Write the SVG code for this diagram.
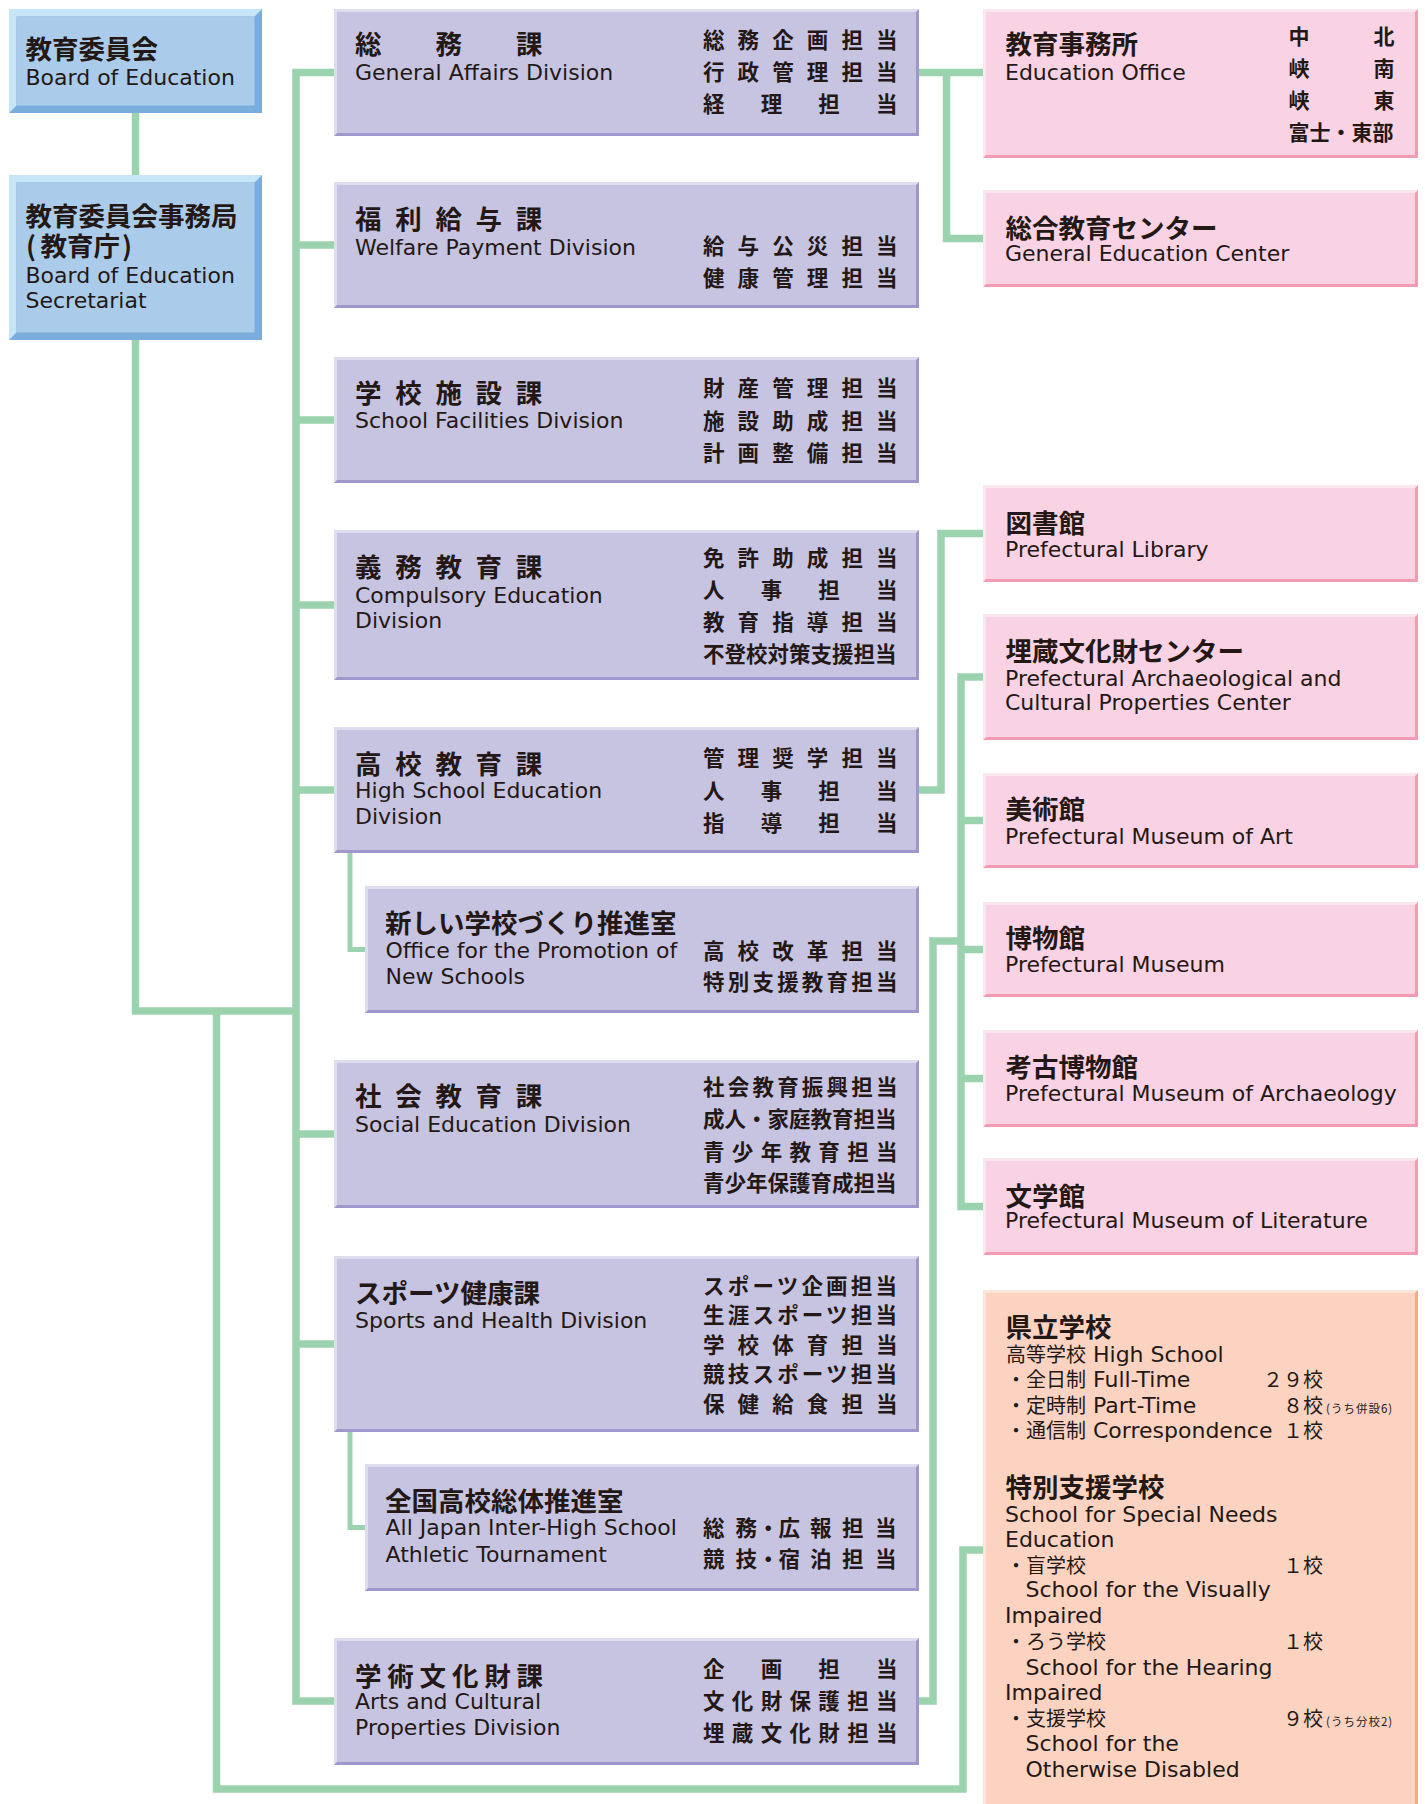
<svg xmlns="http://www.w3.org/2000/svg" width="1425" height="1804" viewBox="0 0 1425 1804">
<style>
.cn{fill:none;stroke:#9cd3af;stroke-width:7.5;stroke-linejoin:miter}
.cn2{fill:none;stroke:#9cd3af;stroke-width:5;stroke-linejoin:miter}
.bd{fill:#7aaddb}.bl{fill:#c6e5f7}.bf{fill:#aaccea}
.pd{fill:#9d97cb}.pl{fill:#dedcef}.pf{fill:#c7c4e1}
.kd{fill:#f29cb4}.kl{fill:#fde7ef}.kf{fill:#f9d3e3}
.sd{fill:#f4a98c}.sl{fill:#fde4d9}.sf{fill:#fcd3c1}
text{fill:#231815}
.ja{font-family:"Noto Sans CJK JP",sans-serif}
.h{font-size:26.5px;font-weight:700}
.r{font-size:21.5px;font-weight:700}
.q{font-size:21px;font-weight:700}
.e{font-family:"DejaVu Sans","Noto Sans CJK JP",sans-serif;font-size:22px}
.s5{letter-spacing:13.7px}.s6{letter-spacing:5.8px}
.r4{letter-spacing:36.17px}.r6{letter-spacing:13.1px}.r7{letter-spacing:7.33px}.r8{letter-spacing:3.21px}
.k{font-family:"Noto Sans CJK JP",sans-serif;font-size:20px}
.t{font-family:"Noto Sans CJK JP",sans-serif;font-size:11.5px;letter-spacing:1px}
</style>
<rect width="1425" height="1804" fill="#ffffff"/>
<g id="connectors">
<path class="cn" d="M135.5,113V175"/>
<path class="cn" d="M135.5,340V1011H296"/>
<path class="cn" d="M334,72.5H296V1701H334"/>
<path class="cn" d="M296,245H334M296,420H334M296,605H334M296,790H334M296,1134H334M296,1344H334"/>
<path class="cn" d="M216.5,1011V1789H963V1550H983"/>
<path class="cn2" d="M350,853V949.5H365M350,1432V1527.5H365"/>
<path class="cn" d="M919,72.5H983M946.5,72.5V238.5H983"/>
<path class="cn" d="M919,790H941V533.5H983"/>
<path class="cn" d="M983,677H961V1206.5H983M961,820.5H983M961,949.5H983M961,1078.5H983"/>
<path class="cn" d="M919,1701H933V941H961"/>
</g>
<g id="board">
<rect class="bd" x="9" y="9" width="253" height="104"/>
<polygon class="bl" points="9,9 262,9 254.5,16.5 16.5,16.5 16.5,105.5 9,113"/>
<rect class="bf" x="16.5" y="16.5" width="238" height="89"/>
<text class="ja h" x="25.5" y="59">教育委員会</text>
<text class="e" x="25.5" y="85">Board of Education</text>
</g>
<g id="secretariat">
<rect class="bd" x="9" y="175" width="253" height="165"/>
<polygon class="bl" points="9,175 262,175 254.5,182.5 16.5,182.5 16.5,332.5 9,340"/>
<rect class="bf" x="16.5" y="182.5" width="238" height="150"/>
<text class="ja h" x="25.5" y="225.5">教育委員会事務局</text>
<text class="ja h" x="26 40.5 67 93.5 122" y="256">(教育庁)</text>
<text class="e" x="25.5" y="283">Board of Education</text>
<text class="e" x="25.5" y="308">Secretariat</text>
</g>
<g id="general-affairs">
<rect class="pd" x="334" y="9" width="585" height="127"/>
<polygon class="pl" points="334,9 919,9 916,12 337,12 337,133 334,136"/>
<rect class="pf" x="337" y="12" width="579" height="121"/>
<text class="ja h" x="355 435.5 516" y="54">総務課</text>
<text class="e" x="355" y="80">General Affairs Division</text>
<text class="ja r r6" x="703" y="47.5">総務企画担当</text>
<text class="ja r r6" x="703" y="79.5">行政管理担当</text>
<text class="ja r r4" x="703" y="112">経理担当</text>
</g>
<g id="welfare">
<rect class="pd" x="334" y="182" width="585" height="126"/>
<polygon class="pl" points="334,182 919,182 916,185 337,185 337,305 334,308"/>
<rect class="pf" x="337" y="185" width="579" height="120"/>
<text class="ja h s5" x="355" y="228.5">福利給与課</text>
<text class="e" x="355" y="255">Welfare Payment Division</text>
<text class="ja r r6" x="703" y="254">給与公災担当</text>
<text class="ja r r6" x="703" y="285.7">健康管理担当</text>
</g>
<g id="school-facilities">
<rect class="pd" x="334" y="357" width="585" height="126"/>
<polygon class="pl" points="334,357 919,357 916,360 337,360 337,480 334,483"/>
<rect class="pf" x="337" y="360" width="579" height="120"/>
<text class="ja h s5" x="355" y="403">学校施設課</text>
<text class="e" x="355" y="428.3">School Facilities Division</text>
<text class="ja r r6" x="703" y="396">財産管理担当</text>
<text class="ja r r6" x="703" y="428.7">施設助成担当</text>
<text class="ja r r6" x="703" y="460.5">計画整備担当</text>
</g>
<g id="compulsory">
<rect class="pd" x="334" y="530" width="585" height="150"/>
<polygon class="pl" points="334,530 919,530 916,533 337,533 337,677 334,680"/>
<rect class="pf" x="337" y="533" width="579" height="144"/>
<text class="ja h s5" x="355" y="577">義務教育課</text>
<text class="e" x="355" y="603.3">Compulsory Education</text>
<text class="e" x="355" y="628">Division</text>
<text class="ja r r6" x="703" y="566">免許助成担当</text>
<text class="ja r r4" x="703" y="598">人事担当</text>
<text class="ja r r6" x="703" y="630">教育指導担当</text>
<text class="ja r" x="703" y="661.5">不登校対策支援担当</text>
</g>
<g id="high-school">
<rect class="pd" x="334" y="727" width="585" height="126"/>
<polygon class="pl" points="334,727 919,727 916,730 337,730 337,850 334,853"/>
<rect class="pf" x="337" y="730" width="579" height="120"/>
<text class="ja h s5" x="355" y="774">高校教育課</text>
<text class="e" x="355" y="798.3">High School Education</text>
<text class="e" x="355" y="824.3">Division</text>
<text class="ja r r6" x="703" y="765.7">管理奨学担当</text>
<text class="ja r r4" x="703" y="798.7">人事担当</text>
<text class="ja r r4" x="703" y="830.7">指導担当</text>
</g>
<g id="new-schools">
<rect class="pd" x="365" y="886" width="554" height="127"/>
<polygon class="pl" points="365,886 919,886 916,889 368,889 368,1010 365,1013"/>
<rect class="pf" x="368" y="889" width="548" height="121"/>
<text class="ja h" x="385" y="932.5">新しい学校づくり推進室</text>
<text class="e" x="385.5" y="958.3">Office for the Promotion of</text>
<text class="e" x="385.5" y="984.3">New Schools</text>
<text class="ja r r6" x="703" y="958.7">高校改革担当</text>
<text class="ja r r8" x="703" y="989.5">特別支援教育担当</text>
</g>
<g id="social-education">
<rect class="pd" x="334" y="1060" width="585" height="148"/>
<polygon class="pl" points="334,1060 919,1060 916,1063 337,1063 337,1205 334,1208"/>
<rect class="pf" x="337" y="1063" width="579" height="142"/>
<text class="ja h s5" x="355" y="1106">社会教育課</text>
<text class="e" x="355" y="1131.7">Social Education Division</text>
<text class="ja r r8" x="703" y="1095.4">社会教育振興担当</text>
<text class="ja r" x="703" y="1127.4">成人・家庭教育担当</text>
<text class="ja r r7" x="703" y="1160">青少年教育担当</text>
<text class="ja r" x="703" y="1191">青少年保護育成担当</text>
</g>
<g id="sports-health">
<rect class="pd" x="334" y="1256" width="585" height="176"/>
<polygon class="pl" points="334,1256 919,1256 916,1259 337,1259 337,1429 334,1432"/>
<rect class="pf" x="337" y="1259" width="579" height="170"/>
<text class="ja h" x="355" y="1303">スポーツ健康課</text>
<text class="e" x="355" y="1328.3">Sports and Health Division</text>
<text class="ja r r8" x="703" y="1293.5">スポーツ企画担当</text>
<text class="ja r r8" x="703" y="1323">生涯スポーツ担当</text>
<text class="ja r r6" x="703" y="1352.5">学校体育担当</text>
<text class="ja r r8" x="703" y="1382">競技スポーツ担当</text>
<text class="ja r r6" x="703" y="1411.5">保健給食担当</text>
</g>
<g id="inter-high">
<rect class="pd" x="365" y="1464" width="554" height="127"/>
<polygon class="pl" points="365,1464 919,1464 916,1467 368,1467 368,1588 365,1591"/>
<rect class="pf" x="368" y="1467" width="548" height="121"/>
<text class="ja h" x="385" y="1511">全国高校総体推進室</text>
<text class="e" x="385.5" y="1535">All Japan Inter-High School</text>
<text class="e" x="385.5" y="1561.7">Athletic Tournament</text>
<text class="ja r" x="703 735.5 757.5 778.5 810 842 875" y="1535.7">総務・広報担当</text>
<text class="ja r" x="703 735.5 757.5 778.5 810 842 875" y="1567.4">競技・宿泊担当</text>
</g>
<g id="arts-culture">
<rect class="pd" x="334" y="1638" width="585" height="127"/>
<polygon class="pl" points="334,1638 919,1638 916,1641 337,1641 337,1762 334,1765"/>
<rect class="pf" x="337" y="1641" width="579" height="121"/>
<text class="ja h s6" x="355" y="1686">学術文化財課</text>
<text class="e" x="355" y="1709.3">Arts and Cultural</text>
<text class="e" x="355" y="1735">Properties Division</text>
<text class="ja r r4" x="703" y="1677.4">企画担当</text>
<text class="ja r r7" x="703" y="1709">文化財保護担当</text>
<text class="ja r r7" x="703" y="1740.7">埋蔵文化財担当</text>
</g>
<g id="education-office">
<rect class="kd" x="983" y="9" width="435" height="149"/>
<polygon class="kl" points="983,9 1418,9 1415,12 986,12 986,155 983,158"/>
<rect class="kf" x="986" y="12" width="429" height="143"/>
<text class="ja h" x="1005.5" y="54.3">教育事務所</text>
<text class="e" x="1005" y="80">Education Office</text>
<text class="ja q" x="1288.5 1373.5" y="43.5">中北</text>
<text class="ja q" x="1288.5 1373.5" y="75.5">峡南</text>
<text class="ja q" x="1288.5 1373.5" y="107.5">峡東</text>
<text class="ja q" x="1288.5" y="139.5">富士・東部</text>
</g>
<g id="general-education-center">
<rect class="kd" x="983" y="190" width="435" height="97"/>
<polygon class="kl" points="983,190 1418,190 1415,193 986,193 986,284 983,287"/>
<rect class="kf" x="986" y="193" width="429" height="91"/>
<text class="ja h" x="1005.5" y="237.5">総合教育センター</text>
<text class="e" x="1005" y="260.7">General Education Center</text>
</g>
<g id="library">
<rect class="kd" x="983" y="485" width="435" height="97"/>
<polygon class="kl" points="983,485 1418,485 1415,488 986,488 986,579 983,582"/>
<rect class="kf" x="986" y="488" width="429" height="91"/>
<text class="ja h" x="1005.5" y="532.5">図書館</text>
<text class="e" x="1005" y="556.7">Prefectural Library</text>
</g>
<g id="archaeological-center">
<rect class="kd" x="983" y="614" width="435" height="126"/>
<polygon class="kl" points="983,614 1418,614 1415,617 986,617 986,737 983,740"/>
<rect class="kf" x="986" y="617" width="429" height="120"/>
<text class="ja h" x="1005.5" y="661">埋蔵文化財センター</text>
<text class="e" x="1005" y="686">Prefectural Archaeological and</text>
<text class="e" x="1005" y="710">Cultural Properties Center</text>
</g>
<g id="museum-of-art">
<rect class="kd" x="983" y="773" width="435" height="95"/>
<polygon class="kl" points="983,773 1418,773 1415,776 986,776 986,865 983,868"/>
<rect class="kf" x="986" y="776" width="429" height="89"/>
<text class="ja h" x="1005.5" y="819">美術館</text>
<text class="e" x="1005" y="844">Prefectural Museum of Art</text>
</g>
<g id="museum">
<rect class="kd" x="983" y="902" width="435" height="95"/>
<polygon class="kl" points="983,902 1418,902 1415,905 986,905 986,994 983,997"/>
<rect class="kf" x="986" y="905" width="429" height="89"/>
<text class="ja h" x="1005.5" y="947.5">博物館</text>
<text class="e" x="1005" y="971.7">Prefectural Museum</text>
</g>
<g id="museum-of-archaeology">
<rect class="kd" x="983" y="1030" width="435" height="97"/>
<polygon class="kl" points="983,1030 1418,1030 1415,1033 986,1033 986,1124 983,1127"/>
<rect class="kf" x="986" y="1033" width="429" height="91"/>
<text class="ja h" x="1005.5" y="1076.7">考古博物館</text>
<text class="e" x="1005" y="1100.5">Prefectural Museum of Archaeology</text>
</g>
<g id="museum-of-literature">
<rect class="kd" x="983" y="1158" width="435" height="97"/>
<polygon class="kl" points="983,1158 1418,1158 1415,1161 986,1161 986,1252 983,1255"/>
<rect class="kf" x="986" y="1161" width="429" height="91"/>
<text class="ja h" x="1005.5" y="1205.5">文学館</text>
<text class="e" x="1005" y="1228.3">Prefectural Museum of Literature</text>
</g>
<g id="prefectural-schools">
<rect class="sd" x="983" y="1290" width="435" height="520"/>
<polygon class="sl" points="983,1290 1418,1290 1415,1293 986,1293 986,1810 983,1810"/>
<rect class="sf" x="986" y="1293" width="429" height="517"/>
<text class="ja h" x="1005.5" y="1337">県立学校</text>
<text class="e" x="1006" y="1361.7"><tspan class="k">高等学校</tspan> High School</text>
<text class="e" x="1006" y="1386.7"><tspan class="k">・全日制</tspan> Full-Time</text>
<text class="k" x="1263" y="1386.7">２９校</text>
<text class="e" x="1006" y="1412.7"><tspan class="k">・定時制</tspan> Part-Time</text>
<text class="k" x="1283" y="1412.7">８校</text>
<text class="t" x="1326" y="1412.7">(うち併設6)</text>
<text class="e" x="1006" y="1438.3"><tspan class="k">・通信制</tspan> Correspondence</text>
<text class="k" x="1283" y="1438.3">１校</text>
<text class="ja h" x="1005.5" y="1497">特別支援学校</text>
<text class="e" x="1005" y="1521.7">School for Special Needs</text>
<text class="e" x="1005" y="1546.7">Education</text>
<text class="k" x="1006" y="1572.7">・盲学校</text>
<text class="k" x="1283" y="1572.7">１校</text>
<text class="e" x="1025.5" y="1597.3">School for the Visually</text>
<text class="e" x="1005" y="1623.3">Impaired</text>
<text class="k" x="1006" y="1649.3">・ろう学校</text>
<text class="k" x="1283" y="1649.3">１校</text>
<text class="e" x="1025.5" y="1675">School for the Hearing</text>
<text class="e" x="1005" y="1700">Impaired</text>
<text class="k" x="1006" y="1726">・支援学校</text>
<text class="k" x="1283" y="1726">９校</text>
<text class="t" x="1326" y="1726">(うち分校2)</text>
<text class="e" x="1025.5" y="1751">School for the</text>
<text class="e" x="1025.5" y="1776.7">Otherwise Disabled</text>
</g>
</svg>
